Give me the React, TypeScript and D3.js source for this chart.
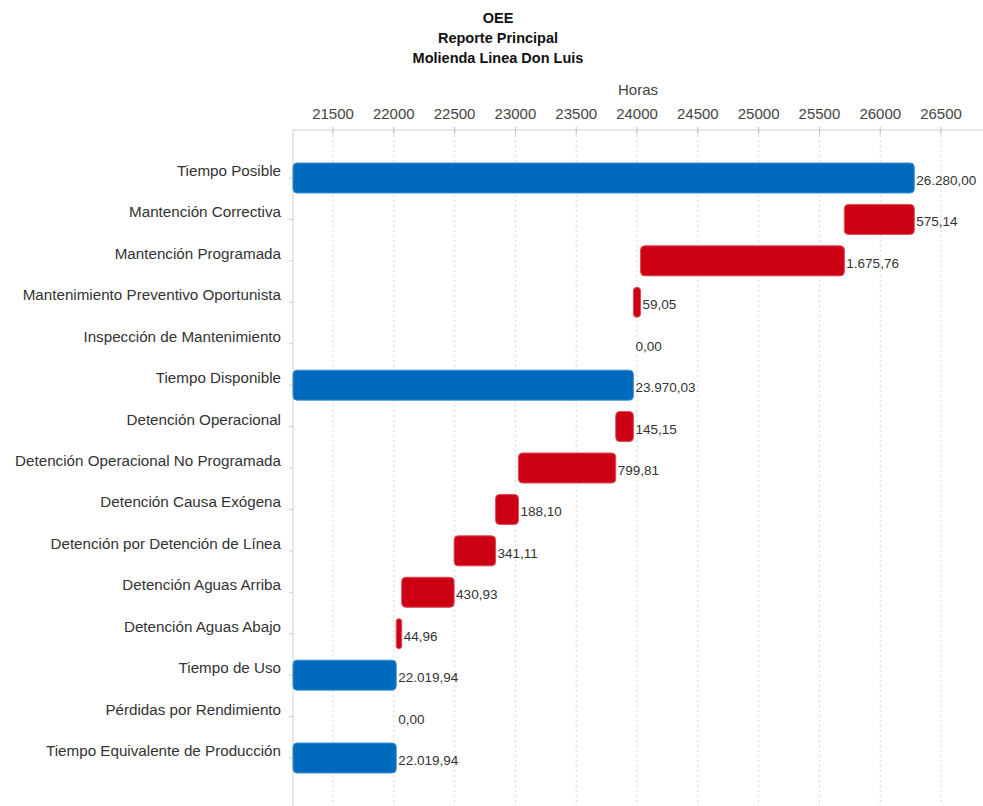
import React from "react";
import * as d3 from "d3";

const categories = [
  "Tiempo Posible",
  "Mantención Correctiva",
  "Mantención Programada",
  "Mantenimiento Preventivo Oportunista",
  "Inspección de Mantenimiento",
  "Tiempo Disponible",
  "Detención Operacional",
  "Detención Operacional No Programada",
  "Detención Causa Exógena",
  "Detención por Detención de Línea",
  "Detención Aguas Arriba",
  "Detención Aguas Abajo",
  "Tiempo de Uso",
  "Pérdidas por Rendimiento",
  "Tiempo Equivalente de Producción",
];
const values = [
  26280.0, 575.14, 1675.76, 59.05, 0.0, 23970.03, 145.15, 799.81, 188.1,
  341.11, 430.93, 44.96, 22019.94, 0.0, 22019.94,
];
const kinds = [
  "total", "loss", "loss", "loss", "loss", "total", "loss", "loss", "loss",
  "loss", "loss", "loss", "total", "loss", "total",
];
const xTicks = [21500, 22000, 22500, 23000, 23500, 24000, 24500, 25000, 25500, 26000, 26500];
const titleLines = ["OEE", "Reporte Principal", "Molienda Linea Don Luis"];
const axisTitle = "Horas";

const W = 983;
const H = 806;
const FONT = "'Liberation Sans', Arial, sans-serif";
const BLUE = "#006BBD";
const BLUE_STROKE = "#3f8fd2";
const RED = "#CC0012";
const RED_STROKE = "#e0485a";

const locale = d3.formatLocale({
  decimal: ",",
  thousands: ".",
  grouping: [3],
  currency: ["", ""],
});
const fmt = locale.format(",.2f");

export default function App() {
  const x = d3.scaleLinear().domain([21171, 26845]).range([293, 983]);
  const y = d3.scalePoint<string>().domain(categories).range([178, 758]);
  const barH = 30;
  const axisY = 130;
  const domainMin = x.domain()[0];

  let running = 0;
  const bars = categories.map((c, i) => {
    const v = values[i];
    let x0: number, x1: number;
    if (kinds[i] === "total") {
      x0 = domainMin;
      x1 = v;
      running = v;
    } else {
      x1 = running;
      x0 = running - v;
      running = x0;
    }
    return { c, v, x0, x1, kind: kinds[i] };
  });

  return (
    <svg
      width={W}
      height={H}
      style={{ position: "absolute", left: 0, top: 0, background: "#fff" }}
      fontFamily={FONT}
    >
      {titleLines.map((t, i) => (
        <text
          key={t}
          x={498}
          y={23 + i * 20}
          textAnchor="middle"
          fontWeight="bold"
          fontSize={14.5}
          fill="#111"
        >
          {t}
        </text>
      ))}
      <text x={(x.range()[0] + x.range()[1]) / 2} y={95} textAnchor="middle" fontSize={15} fill="#444">
        {axisTitle}
      </text>
      {xTicks.map((t) => (
        <g key={t}>
          <line
            x1={x(t)}
            x2={x(t)}
            y1={axisY}
            y2={H}
            stroke="#d8d8d8"
            strokeDasharray="2,3"
          />
          <line x1={x(t)} x2={x(t)} y1={axisY - 3} y2={axisY + 4} stroke="#bbb" />
          <text x={x(t)} y={119} textAnchor="middle" fontSize={15} fill="#444">
            {t}
          </text>
        </g>
      ))}
      <line x1={x.range()[0]} x2={x.range()[1]} y1={axisY} y2={axisY} stroke="#d0d0d0" />
      <line x1={x.range()[0]} x2={x.range()[0]} y1={axisY} y2={H} stroke="#d0d0d0" />
      {categories.map((c) => (
        <g key={c}>
          <line x1={289} x2={293} y1={y(c)!} y2={y(c)!} stroke="#ccc" />
          <text x={281} y={y(c)! - 2} textAnchor="end" fontSize={15.2} fill="#333">
            {c}
          </text>
        </g>
      ))}
      {bars.map((b) => {
        const cy = y(b.c)!;
        const w = x(b.x1) - x(b.x0);
        return (
          <g key={b.c}>
            {b.v > 0 && (
              <rect
                x={x(b.x0)}
                y={cy - barH / 2}
                width={Math.max(w, 3)}
                height={barH}
                rx={Math.min(4, Math.max(w, 3) / 2)}
                fill={b.kind === "total" ? BLUE : RED}
                stroke={b.kind === "total" ? BLUE_STROKE : RED_STROKE}
                strokeWidth={1}
              />
            )}
            <text x={x(b.x1) + 2} y={cy + 7} fontSize={13.5} fill="#333">
              {fmt(b.v)}
            </text>
          </g>
        );
      })}
    </svg>
  );
}
